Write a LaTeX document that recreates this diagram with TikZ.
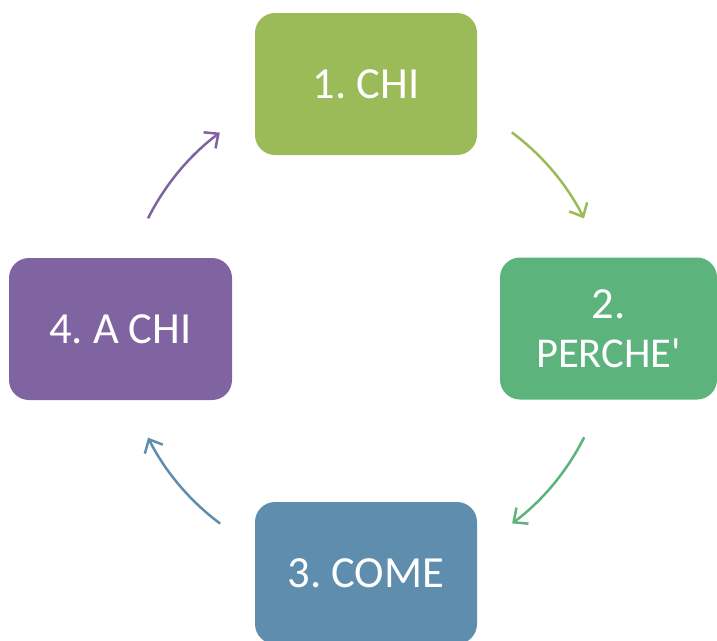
\documentclass[tikz,border=0pt]{standalone}
\usepackage{fontspec}
\setmainfont{Carlito}
\usetikzlibrary{arrows.meta}
\definecolor{cA}{HTML}{9BBB59}
\definecolor{cB}{HTML}{5CB37C}
\definecolor{cC}{HTML}{5F8DAD}
\definecolor{cD}{HTML}{8064A2}
\frenchspacing
\tikzset{
  stepbox/.style={draw=none, rounded corners=20pt, minimum width=222pt, minimum height=142pt,
    inner sep=0pt, text=white, align=center, font=\fontsize{44.5}{49}\selectfont},
  cyc/.style={line width=2.5pt, -{Straight Barb[length=11pt,width=20pt,line width=2.5pt]}}
}
\begin{document}
\begin{tikzpicture}[x=1pt,y=-1pt]
\useasboundingbox (0,0) rectangle (717,640);
\begin{scope}
\clip (0,0) rectangle (717,640);
\node[stepbox, fill=cA] (b1) at (366,84) {1. CHI};
\node[stepbox, fill=cB, minimum width=217pt] (b2) at (608.5,328.5) {2.\\{\fontsize{42.5}{49}\selectfont PERCHE\textquotesingle}};
\node[stepbox, fill=cC] (b3) at (366,573) {3. COME};
\node[stepbox, fill=cD, minimum width=223pt] (b4) at (120.5,329) {4. A CHI};
\end{scope}
\draw[cyc, draw=cA] ([shift={(53.3:244pt)}]366,328) arc[start angle=53.3, end angle=26.7, radius=244pt];
\draw[cyc, draw=cB] ([shift={(-26.6:244pt)}]366,328) arc[start angle=-26.6, end angle=-53.2, radius=244pt];
\draw[cyc, draw=cC] ([shift={(-126.7:244pt)}]366,328) arc[start angle=-126.7, end angle=-153.3, radius=244pt];
\draw[cyc, draw=cD] ([shift={(153.3:244pt)}]366,328) arc[start angle=153.3, end angle=126.8, radius=244pt];
\end{tikzpicture}
\end{document}
